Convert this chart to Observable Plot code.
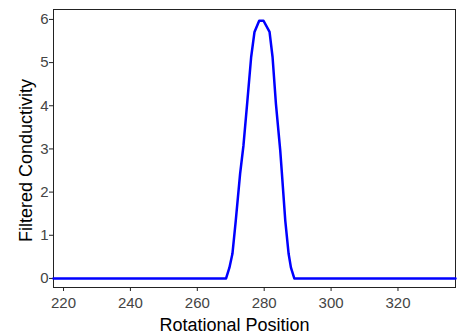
<!DOCTYPE html>
<html>
<head>
<meta charset="utf-8">
<script src="https://cdn.jsdelivr.net/npm/d3@7"></script>
<script src="https://cdn.jsdelivr.net/npm/@observablehq/plot@0.6"></script>
<style>
  body { margin: 0; background: #fff; }
  #chart { width: 463px; height: 334px; }
  .tk text { font-size: 15px; fill: #444; }
</style>
</head>
<body>
<div id="chart"></div>
<script>
const positions = [217, 268.6, 269.6, 270.5, 271.5, 272.8, 273.8, 274.9, 276.1, 277.1, 278.5, 279.8, 281.6, 282.5, 283.5, 284.8, 285.3, 286.3, 287.3, 288.0, 289.0, 337.2];
const conductivity = [0, 0, 0.25, 0.57, 1.34, 2.43, 3.08, 4.05, 5.13, 5.71, 5.97, 5.97, 5.71, 5.13, 4.05, 2.96, 2.43, 1.34, 0.57, 0.25, 0, 0];
const xTicks = [220, 240, 260, 280, 300, 320];
const yTicks = [0, 1, 2, 3, 4, 5, 6];
const xLabel = "Rotational Position";
const yLabel = "Filtered Conductivity";

const data = positions.map((p, i) => ({x: p, y: conductivity[i]}));

const chart = Plot.plot({
  width: 463,
  height: 334,
  marginLeft: 53,
  marginRight: 8,
  marginTop: 9,
  marginBottom: 47,
  style: {fontFamily: "'Liberation Sans', Arial, sans-serif", background: "#fff"},
  x: {domain: [217, 337.2]},
  y: {domain: [-0.21, 6.23]},
  marks: [
    Plot.frame({stroke: "#222", strokeWidth: 1}),
    Plot.axisX({ticks: xTicks, tickSize: 4, tickPadding: 6, tickFormat: d => String(d), label: null, className: "tk", stroke: "#222"}),
    Plot.axisY({ticks: yTicks, tickSize: 4, tickPadding: 1, tickFormat: d => String(d), label: null, className: "tk", stroke: "#222"}),
    Plot.line(data, {x: "x", y: "y", stroke: "#0000ff", strokeWidth: 2.5, curve: "linear"}),
    Plot.text([xLabel], {frameAnchor: "bottom", dx: -20, dy: 43, lineAnchor: "bottom", textAnchor: "middle", text: d => d, fontSize: 18, fill: "#000"}),
    Plot.text([yLabel], {frameAnchor: "left", dx: -22, dy: 12, rotate: -90, lineAnchor: "bottom", textAnchor: "middle", text: d => d, fontSize: 18, fill: "#000"})
  ]
});
document.getElementById("chart").append(chart);
</script>
</body>
</html>
